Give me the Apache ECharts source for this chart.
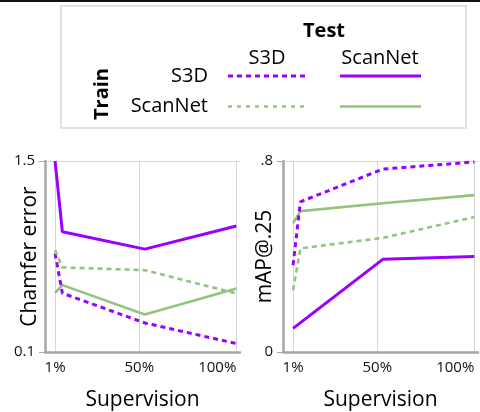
<!DOCTYPE html>
<html>
<head>
<meta charset="utf-8">
<script src="https://cdn.jsdelivr.net/npm/echarts@6/dist/echarts.min.js"></script>
<style>
html,body{margin:0;padding:0;background:#fff;}
#chart{width:480px;height:412px;}
</style>
</head>
<body>
<div id="chart"></div>
<script>
// ---- data ----
const supervision = [1, 5, 50, 100];               // % supervision for each point
const xTickValues = [1, 47, 100];                  // where the reference draws its gridlines
const xTickLabels = ['1%', '50%', '100%'];

// Chamfer error (lower is better)
const chamferS3dS3d         = [0.822, 0.531, 0.313, 0.162];
const chamferS3dScanNet     = [1.5, 0.981, 0.854, 1.023];
const chamferScanNetS3d     = [0.847, 0.720, 0.700, 0.529];
const chamferScanNetScanNet = [0.533, 0.590, 0.375, 0.566];
const chamferTicks = [0.1, 1.5];
const chamferTickLabels = ['0.1', '1.5'];

// mAP@.25 (higher is better)
const mapS3dS3d         = [0.364, 0.629, 0.766, 0.796];
const mapS3dScanNet     = [0.099, null, 0.388, 0.400];
const mapScanNetS3d     = [0.259, 0.434, 0.478, 0.565];
const mapScanNetScanNet = [0.540, 0.590, 0.623, 0.657];
const mapTicks = [0, 0.8];
const mapTickLabels = ['0', '.8'];

// ---- styles ----
const PURPLE = '#9900ff';
const GREEN = '#93c47d';
const FONT = '"Open Sans", "Noto Sans", sans-serif';
const AXIS_GRAY = '#a6a6a6';
const GRID_GRAY = '#d6d6d6';

function pairs(vals) {
  return supervision.map((x, i) => [x, vals[i]]);
}
function labelFor(values, labels) {
  return v => {
    for (let i = 0; i < values.length; i++) if (Math.abs(values[i] - v) < 1e-6) return labels[i];
    return '';
  };
}
function makeX(idx) {
  return {
    gridIndex: idx, type: 'value', min: -4.5, max: 102,
    name: 'Supervision', nameLocation: 'middle', nameGap: 38, nameMoveOverlap: false,
    nameTextStyle: {fontFamily: FONT, fontSize: 21, color: '#000'},
    axisLine: {show: true, onZero: false, lineStyle: {color: AXIS_GRAY, width: 2.5}},
    axisTick: {show: false, customValues: xTickValues},
    splitLine: {show: true, customValues: xTickValues, lineStyle: {color: GRID_GRAY, width: 1}},
    axisLabel: {customValues: xTickValues, formatter: labelFor(xTickValues, xTickLabels),
      fontFamily: FONT, fontSize: 15, color: '#111', margin: 8, hideOverlap: false,
      alignMaxLabel: 'right'}
  };
}
function makeY(idx, min, max, ticks, labels, name, gap) {
  return {
    gridIndex: idx, type: 'value', min: min, max: max,
    name: name, nameLocation: 'middle', nameGap: gap, nameMoveOverlap: false,
    nameTextStyle: {fontFamily: FONT, fontSize: 21, color: '#000'},
    axisLine: {show: true, onZero: false, lineStyle: {color: AXIS_GRAY, width: 2.5}},
    axisTick: {show: true, length: 6, customValues: ticks, lineStyle: {color: AXIS_GRAY, width: 1}},
    splitLine: {show: true, customValues: ticks, lineStyle: {color: GRID_GRAY, width: 1}},
    axisLabel: {customValues: ticks, formatter: labelFor(ticks, labels),
      fontFamily: FONT, fontSize: 15, color: '#111', margin: 10}
  };
}
function line(name, idx, vals, color, dashed) {
  return {
    name: name, type: 'line', xAxisIndex: idx, yAxisIndex: idx,
    data: pairs(vals), showSymbol: false, symbol: 'none', connectNulls: true,
    animation: false, silent: true,
    lineStyle: {color: color, width: color === PURPLE ? 3 : 2.6, type: dashed ? [5, 4] : 'solid', cap: 'butt'},
    z: dashed ? 3 : 2
  };
}

const legendLines = [
  {type: 'line', shape: {x1: 228, y1: 76, x2: 308, y2: 76}, style: {stroke: PURPLE, lineWidth: 3, lineDash: [5, 4]}},
  {type: 'line', shape: {x1: 340, y1: 76, x2: 421, y2: 76}, style: {stroke: PURPLE, lineWidth: 3}},
  {type: 'line', shape: {x1: 228, y1: 106.5, x2: 308, y2: 106.5}, style: {stroke: GREEN, lineWidth: 2.6, lineDash: [4, 5]}},
  {type: 'line', shape: {x1: 340, y1: 106.5, x2: 421, y2: 106.5}, style: {stroke: GREEN, lineWidth: 2.6}}
];
function txt(text, x, y, align, bold, rot) {
  return {type: 'text', x: x, y: y, rotation: rot || 0,
    style: {text: text, fill: '#000', font: (bold ? 'bold ' : '') + '20px ' + FONT,
      textAlign: align, textVerticalAlign: 'middle'}};
}

const chart = echarts.init(document.getElementById('chart'), null, {renderer: 'canvas'});
chart.setOption({
  animation: false,
  backgroundColor: '#fff',
  grid: [
    {left: 45, right: 240, top: 161, bottom: 60, containLabel: false, outerBoundsMode: 'none'},
    {left: 283, right: 2, top: 161, bottom: 60, containLabel: false, outerBoundsMode: 'none'}
  ],
  xAxis: [makeX(0), makeX(1)],
  yAxis: [
    makeY(0, 0.1, 1.5, chamferTicks, chamferTickLabels, 'Chamfer error', 4),
    makeY(1, 0, 0.8, mapTicks, mapTickLabels, 'mAP@.25', 7)
  ],
  series: [
    line('S3D→S3D', 0, chamferS3dS3d, PURPLE, true),
    line('S3D→ScanNet', 0, chamferS3dScanNet, PURPLE, false),
    line('ScanNet→S3D', 0, chamferScanNetS3d, GREEN, true),
    line('ScanNet→ScanNet', 0, chamferScanNetScanNet, GREEN, false),
    line('S3D→S3D', 1, mapS3dS3d, PURPLE, true),
    line('S3D→ScanNet', 1, mapS3dScanNet, PURPLE, false),
    line('ScanNet→S3D', 1, mapScanNetS3d, GREEN, true),
    line('ScanNet→ScanNet', 1, mapScanNetScanNet, GREEN, false)
  ],
  graphic: [
    {type: 'rect', shape: {x: 0, y: 0, width: 480, height: 2}, style: {fill: '#111'}},
    {type: 'rect', shape: {x: 61, y: 6, width: 405, height: 122}, style: {fill: '#fff', stroke: '#d9d9d9', lineWidth: 1.5}},
    txt('Test', 324, 31, 'center', true),
    txt('S3D', 267, 58, 'center', false),
    txt('ScanNet', 380, 58, 'center', false),
    txt('S3D', 208, 76, 'right', false),
    txt('ScanNet', 208, 106, 'right', false),
    txt('Train', 102, 94, 'center', true, Math.PI / 2)
  ].concat(legendLines)
});
</script>
</body>
</html>
